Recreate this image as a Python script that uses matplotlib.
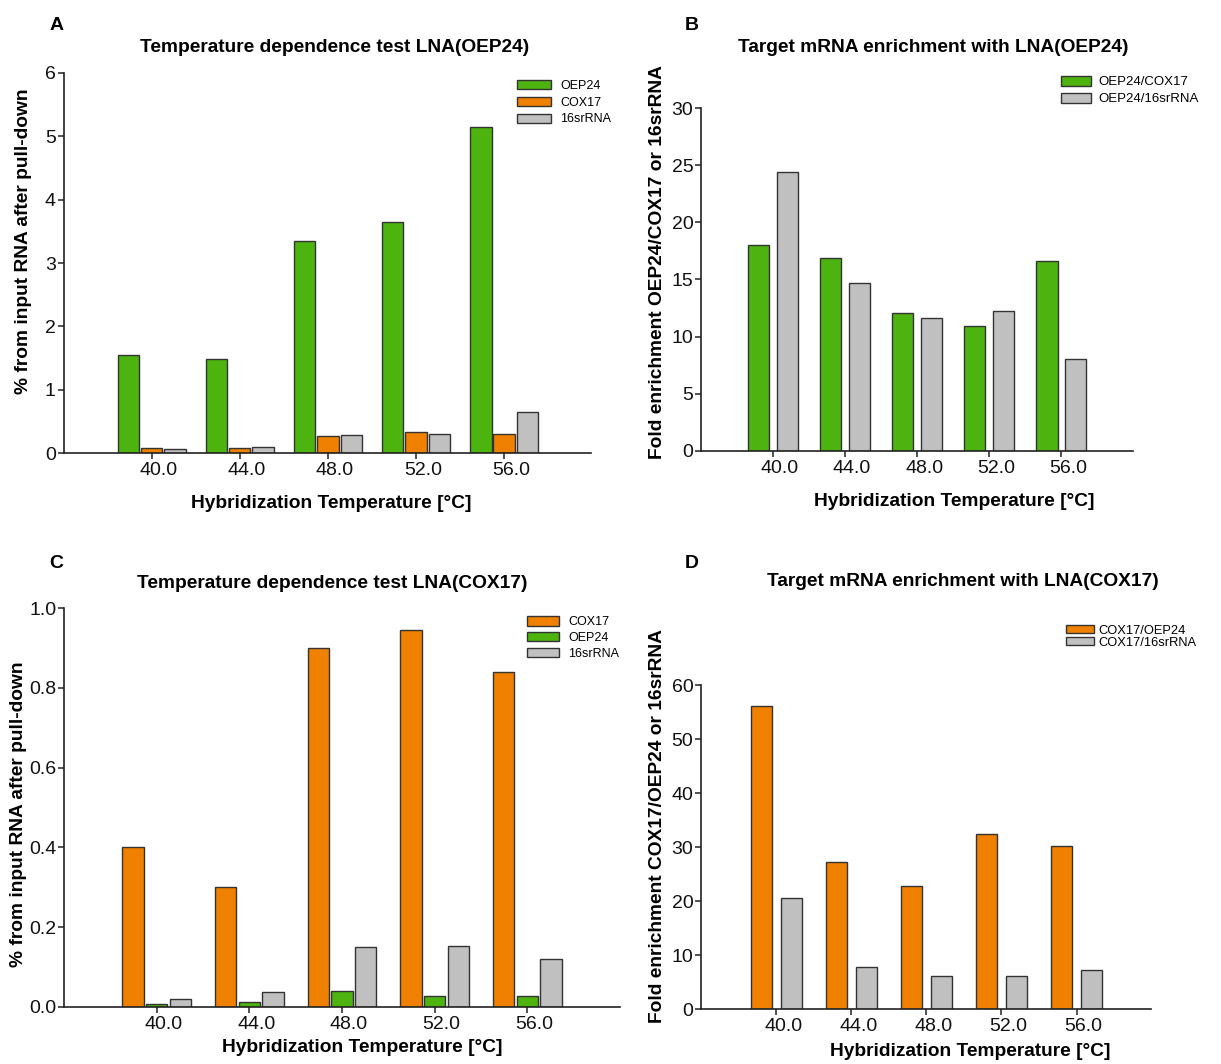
import matplotlib
matplotlib.use("Agg")
import matplotlib.pyplot as plt
import matplotlib.transforms as mtransforms
import numpy as np

plt.rcParams['font.family'] = ['Liberation Sans', 'DejaVu Sans']

# ---------------- data ----------------
temps = ['40.0', '44.0', '48.0', '52.0', '56.0']

a_oep24 = [1.55, 1.48, 3.35, 3.65, 5.14]
a_cox17 = [0.09, 0.09, 0.28, 0.34, 0.31]
a_16s = [0.06, 0.10, 0.29, 0.30, 0.65]

b_oep_cox = [18.0, 16.9, 12.1, 10.9, 16.6]
b_oep_16s = [24.4, 14.7, 11.6, 12.2, 8.0]

c_cox17 = [0.40, 0.30, 0.90, 0.945, 0.84]
c_oep24 = [0.008, 0.011, 0.039, 0.028, 0.028]
c_16s = [0.020, 0.038, 0.150, 0.152, 0.119]

d_cox_oep = [56.2, 27.2, 22.8, 32.4, 30.1]
d_cox_16s = [20.6, 7.7, 6.05, 6.2, 7.2]

# ---------------- style ----------------
GREEN = '#4DB30F'
ORANGE = '#F08000'
GREY = '#C0C0C0'
EDGE = '#333333'
TFS = 13.8  # titles / axis labels

W, H = 1221, 1064
fig = plt.figure(figsize=(W / 100, H / 100), dpi=100)


def axes_px(left, right, top, bottom):
    return fig.add_axes([left / W, 1 - bottom / H, (right - left) / W, (bottom - top) / H])


def ftext(x, y, s, **kw):
    fig.text(x / W, 1 - y / H, s, ha=kw.pop('ha', 'center'), va=kw.pop('va', 'center'), **kw)


def style_axes(ax, xlim, ylim, yticks, yfmt):
    ax.set_xlim(*xlim)
    ax.set_ylim(*ylim)
    for s in ('top', 'right'):
        ax.spines[s].set_visible(False)
    for s in ('left', 'bottom'):
        ax.spines[s].set_linewidth(1.2)
        ax.spines[s].set_color('#222222')
    ax.set_xticks(np.arange(len(temps)))
    ax.set_xticklabels(temps)
    ax.set_yticks(yticks)
    ax.set_yticklabels([yfmt.format(v) for v in yticks])
    ax.tick_params(axis='both', direction='out', width=1.1, colors='#222222',
                   labelsize=14, labelcolor='#111111')
    ax.tick_params(axis='x', length=4.5, pad=2)
    ax.tick_params(axis='y', length=4, pad=1.5)
    off = mtransforms.ScaledTranslation(7 / 100, 0, fig.dpi_scale_trans)
    for lab in ax.get_xticklabels():
        lab.set_transform(lab.get_transform() + off)


def legend_px(ax, handles, labels, x, y, fs, hl_px, hh_px, pad_px, spacing):
    fpx = fs * 100 / 72
    ax.legend(handles, labels, loc='upper left', bbox_to_anchor=(x / W, 1 - y / H),
              bbox_transform=fig.transFigure, frameon=False, fontsize=fs,
              handlelength=hl_px / fpx, handleheight=hh_px / fpx,
              handletextpad=pad_px / fpx, labelspacing=spacing,
              borderpad=0, borderaxespad=0)


x = np.arange(len(temps))

# ---------------- Panel A ----------------
axA = axes_px(63.5, 591.4, 72.7, 453.3)
wA, oA = 0.243, 0.265
hA1 = axA.bar(x - oA, a_oep24, wA, color=GREEN, edgecolor=EDGE, linewidth=1)
hA2 = axA.bar(x, a_cox17, wA, color=ORANGE, edgecolor=EDGE, linewidth=1)
hA3 = axA.bar(x + oA, a_16s, wA, color=GREY, edgecolor=EDGE, linewidth=1)
style_axes(axA, (-1.0, 4.99), (0, 6), [0, 1, 2, 3, 4, 5, 6], '{:d}')
legend_px(axA, [hA1, hA2, hA3], ['OEP24', 'COX17', '16srRNA'], 517, 80,
          fs=9, hl_px=34, hh_px=9, pad_px=9, spacing=0.38)
ftext(335, 47, 'Temperature dependence test LNA(OEP24)', fontsize=TFS, fontweight='bold')
ftext(57, 25, 'A', fontsize=14, fontweight='bold')
ftext(331, 503, 'Hybridization Temperature [°C]', fontsize=TFS, fontweight='bold')
ftext(24, 241, '% from input RNA after pull-down', fontsize=TFS, fontweight='bold', rotation=90)

# ---------------- Panel B ----------------
axB = axes_px(701, 1133.3, 108.3, 450.7)
wB, oB = 0.297, 0.2
hB1 = axB.bar(x - oB, b_oep_cox, wB, color=GREEN, edgecolor=EDGE, linewidth=1)
hB2 = axB.bar(x + oB, b_oep_16s, wB, color=GREY, edgecolor=EDGE, linewidth=1)
style_axes(axB, (-1.0, 5.0), (0, 30), [0, 5, 10, 15, 20, 25, 30], '{:d}')
legend_px(axB, [hB1, hB2], ['OEP24/COX17', 'OEP24/16srRNA'], 1061, 76,
          fs=9.5, hl_px=30, hh_px=10, pad_px=7.5, spacing=0.33)
ftext(933, 47, 'Target mRNA enrichment with LNA(OEP24)', fontsize=TFS, fontweight='bold')
ftext(692, 25, 'B', fontsize=14, fontweight='bold')
ftext(954, 501, 'Hybridization Temperature [°C]', fontsize=TFS, fontweight='bold')
ftext(658, 262, 'Fold enrichment OEP24/COX17 or 16srRNA', fontsize=TFS, fontweight='bold', rotation=90)

# ---------------- Panel C ----------------
axC = axes_px(64, 620, 608.3, 1006.7)
wC, oC = 0.231, 0.256
hC1 = axC.bar(x - oC, c_cox17, wC, color=ORANGE, edgecolor=EDGE, linewidth=1)
hC2 = axC.bar(x, c_oep24, wC, color=GREEN, edgecolor=EDGE, linewidth=1)
hC3 = axC.bar(x + oC, c_16s, wC, color=GREY, edgecolor=EDGE, linewidth=1)
style_axes(axC, (-1.0, 5.0), (0, 1.0), [0.0, 0.2, 0.4, 0.6, 0.8, 1.0], '{:.1f}')
legend_px(axC, [hC1, hC2, hC3], ['COX17', 'OEP24', '16srRNA'], 527, 616,
          fs=9, hl_px=32, hh_px=10, pad_px=9, spacing=0.3)
ftext(332, 583, 'Temperature dependence test LNA(COX17)', fontsize=TFS, fontweight='bold')
ftext(56, 563, 'C', fontsize=14, fontweight='bold')
ftext(362, 1047, 'Hybridization Temperature [°C]', fontsize=TFS, fontweight='bold')
ftext(19, 814, '% from input RNA after pull-down', fontsize=TFS, fontweight='bold', rotation=90)

# ---------------- Panel D ----------------
axD = axes_px(701, 1150.9, 685, 1009)
wD, oD = 0.28, 0.2
hD1 = axD.bar(x - oD, d_cox_oep, wD, color=ORANGE, edgecolor=EDGE, linewidth=1)
hD2 = axD.bar(x + oD, d_cox_16s, wD, color=GREY, edgecolor=EDGE, linewidth=1)
style_axes(axD, (-1.0, 4.99), (0, 60), [0, 10, 20, 30, 40, 50, 60], '{:d}')
legend_px(axD, [hD1, hD2], ['COX17/OEP24', 'COX17/16srRNA'], 1066, 624.5,
          fs=9.3, hl_px=28, hh_px=7, pad_px=4.5, spacing=0.0)
ftext(963, 582, 'Target mRNA enrichment with LNA(COX17)', fontsize=TFS, fontweight='bold')
ftext(692, 563, 'D', fontsize=14, fontweight='bold')
ftext(970, 1051, 'Hybridization Temperature [°C]', fontsize=TFS, fontweight='bold')
ftext(658, 826, 'Fold enrichment COX17/OEP24 or 16srRNA', fontsize=TFS, fontweight='bold', rotation=90)

fig.savefig('out.png', dpi=100)
